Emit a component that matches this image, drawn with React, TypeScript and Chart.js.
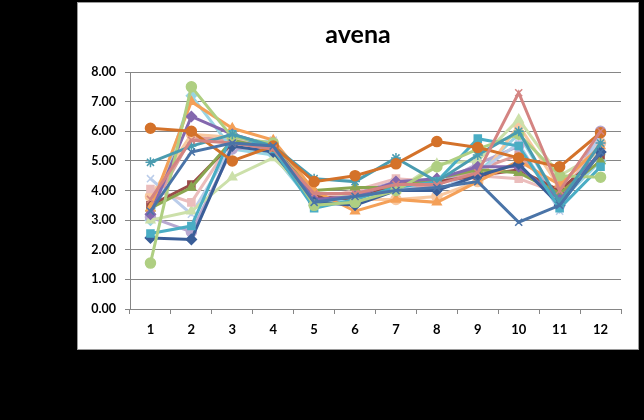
import React, { useEffect, useRef } from "react";
import { Chart, registerables } from "chart.js";

Chart.register(...registerables);

const categories = ["1", "2", "3", "4", "5", "6", "7", "8", "9", "10", "11", "12"];
const yTicks = [0, 1, 2, 3, 4, 5, 6, 7, 8];

const s1 = [3.3, 5.3, 5.6, 5.5, 3.6, 3.8, 4.0, 4.1, 4.3, 2.93, 3.5, 5.3];
const s2 = [3.7, 5.7, 5.6, 5.4, 3.9, 3.9, 4.2, 4.2, 4.6, 7.3, 4.0, 6.0];
const s3 = [6.1, 6.0, 5.0, 5.5, 4.3, 4.5, 4.9, 5.65, 5.45, 5.1, 4.8, 5.95];
const s4 = [4.95, 5.5, 5.9, 5.5, 4.4, 4.3, 5.1, 4.3, 5.2, 6.0, 3.6, 5.6];
const s5 = [1.55, 7.5, 5.8, 5.6, 3.5, 3.6, 4.0, 4.8, 5.4, 5.9, 4.5, 4.45];
const s6 = [2.55, 2.8, 5.9, 5.4, 3.4, 3.7, 4.1, 4.3, 5.75, 5.5, 3.4, 4.8];
const s7 = [2.4, 2.35, 5.5, 5.3, 3.6, 3.5, 4.0, 4.0, 4.5, 4.9, 3.5, 5.3];
const s8 = [3.2, 6.5, 5.9, 5.5, 3.7, 3.8, 4.3, 4.4, 4.8, 4.8, 3.7, 5.3];
const s9 = [3.4, 7.0, 6.1, 5.7, 4.0, 3.3, 3.7, 3.6, 4.3, 5.0, 4.2, 5.5];
const s10 = [3.4, 4.1, 5.7, 5.4, 4.0, 4.1, 4.1, 4.4, 4.7, 4.6, 3.9, 5.0];
const s11 = [3.5, 4.2, 5.6, 5.5, 3.8, 3.7, 4.2, 4.3, 4.5, 4.7, 4.0, 5.2];
const s12 = [4.05, 3.6, 5.7, 5.6, 3.7, 4.0, 4.4, 4.3, 4.5, 4.4, 3.9, 5.5];
const s13 = [3.0, 3.3, 4.45, 5.1, 3.8, 3.9, 4.0, 4.9, 5.0, 6.4, 4.5, 5.3];
const s14 = [4.4, 3.2, 5.5, 5.7, 3.7, 3.8, 4.1, 4.0, 4.6, 5.6, 3.3, 5.9];
const s15 = [3.8, 5.9, 5.8, 5.4, 3.9, 3.7, 3.7, 3.8, 4.3, 6.2, 4.1, 5.6];
const s16 = [3.1, 2.6, 5.4, 5.5, 3.6, 3.9, 4.3, 4.2, 4.9, 5.5, 3.5, 6.0];
const s17 = [3.0, 7.2, 5.4, 5.2, 3.5, 3.8, 4.0, 4.0, 4.6, 5.9, 3.6, 5.0];
const s18 = [3.3, 5.8, 5.7, 5.6, 3.9, 3.8, 4.0, 4.2, 4.7, 5.2, 3.8, 5.6];

const seriesValues = [s1, s2, s3, s4, s5, s6, s7, s8, s9, s10, s11, s12, s13, s14, s15, s16, s17, s18];
const seriesColors = [
  "#4A74A8", "#D48482", "#D4722A", "#4A9CB0", "#AFCF82", "#4AADC4",
  "#3A5E98", "#8468AE", "#F4A058", "#8AA650", "#9A4C4A", "#EBBDBC",
  "#CCE0AA", "#BBCDEA", "#F8C8A0", "#B8A8D0", "#98D4E3", "#DEA09F",
];
const seriesMarkers = [
  "crossRot", "crossRot", "circle", "star", "circle", "rect",
  "rectRot", "rectRot", "triangle", "triangle", "rect", "rect",
  "triangle", "crossRot", "circle", "circle", "rectRot", "rect",
];

export default function App() {
  const ref = useRef<HTMLCanvasElement>(null);

  useEffect(() => {
    document.body.style.margin = "0";
    document.body.style.background = "#000";
    const ctx = ref.current!;
    const chart = new Chart(ctx, {
      type: "line",
      data: {
        labels: categories,
        datasets: seriesValues.map((vals, i) => ({
          label: "Serie " + (i + 1),
          data: vals,
          borderColor: seriesColors[i],
          backgroundColor: seriesColors[i],
          borderWidth: 3,
          pointStyle: seriesMarkers[i] as any,
          pointRadius: 5,
          pointBorderWidth: 1.5,
          tension: 0,
          yAxisID: "y",
        })),
      },
      options: {
        animation: false,
        responsive: false,
        maintainAspectRatio: false,
        layout: { padding: 0 },
        plugins: {
          legend: { display: false },
          tooltip: { enabled: false },
          title: {
            display: true,
            text: "avena",
            color: "#000",
            font: { family: "Lato", size: 25, weight: "bold" },
            padding: { top: 17, bottom: 22 },
          },
        },
        scales: {
          x: {
            type: "category",
            offset: true,
            grid: {
              display: true,
              offset: true,
              drawOnChartArea: false,
              drawTicks: true,
              tickLength: 5,
              color: "#868686",
            },
            border: { display: true, color: "#868686" },
            ticks: {
              color: "#000",
              font: { family: "Lato", size: 13, weight: "bold" },
              padding: 8,
              maxRotation: 0,
            },
            afterFit: (s: any) => {
              s.height = 40;
            },
          },
          y: {
            min: 0,
            max: 8,
            afterBuildTicks: (s: any) => {
              s.ticks = yTicks.map((v) => ({ value: v }));
            },
            grid: {
              color: "#868686",
              tickLength: 5,
            },
            border: { display: true, color: "#868686" },
            ticks: {
              color: "#000",
              font: { family: "Lato", size: 12.5, weight: "bold" },
              padding: 9,
              callback: (v: any) => Number(v).toFixed(2),
            },
            afterFit: (s: any) => {
              s.width = 52;
            },
          },
          yRight: {
            position: "right",
            min: 0,
            max: 8,
            grid: { display: false, drawOnChartArea: false, drawTicks: false },
            border: { display: false },
            ticks: { display: false },
            afterFit: (s: any) => {
              s.width = 17;
            },
          },
        },
      },
    });
    return () => chart.destroy();
  }, []);

  return (
    <div style={{ position: "relative", width: 644, height: 420, background: "#000" }}>
      <div
        style={{
          position: "absolute",
          left: 77,
          top: 2,
          width: 560,
          height: 346,
          background: "#fff",
          border: "1px solid #9a9a9a",
        }}
      >
        <canvas ref={ref} width={560} height={346} style={{ display: "block" }} />
      </div>
    </div>
  );
}
